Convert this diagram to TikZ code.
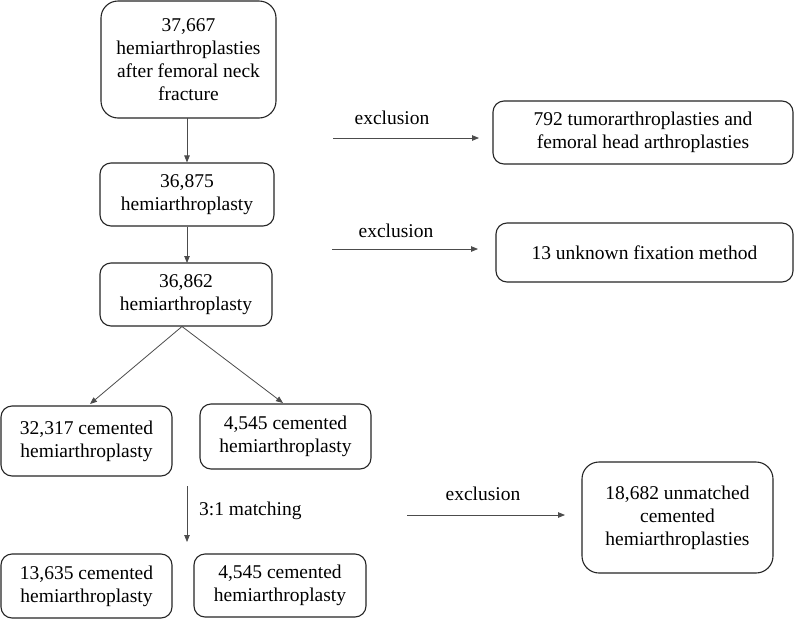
\documentclass[tikz,border=0pt]{standalone}
\usepackage{fontspec}
\setmainfont{Liberation Serif}
\usetikzlibrary{arrows.meta}
\begin{document}
\begin{tikzpicture}[x=1pt,y=-1pt,
  box/.style={draw=black!85, line width=1.1pt, rounded corners=11pt, inner sep=0pt,
    align=center, font=\fontsize{19.5}{23}\selectfont},
  bigbox/.style={box, rounded corners=17pt},
  conn/.style={draw=black!70, line width=0.8pt, -{Triangle[length=7pt,width=5.5pt]}},
  lbl/.style={inner sep=0pt, font=\fontsize{19.5}{23}\selectfont}]
\useasboundingbox (0,0) rectangle (796,619);
\fill[white] (0,0) rectangle (796,619);
% main column
\node[bigbox, minimum width=175pt, minimum height=117pt] (A) at (188.5,59.5)
  {37,667\\hemiarthroplasties\\after femoral neck\\fracture};
\node[box, minimum width=174pt, minimum height=63pt] (B) at (187,194.5)
  {36,875\\hemiarthroplasty};
\node[box, minimum width=172pt, minimum height=63pt] (C) at (186,294.5)
  {36,862\\hemiarthroplasty};
\node[box, minimum width=171pt, minimum height=70pt] (F) at (86.5,441)
  {32,317 cemented\\hemiarthroplasty};
\node[box, minimum width=171pt, minimum height=65pt] (G) at (285.5,436.5)
  {4,545 cemented\\hemiarthroplasty};
\node[box, minimum width=171pt, minimum height=64pt] (H) at (86.5,586)
  {13,635 cemented\\hemiarthroplasty};
\node[box, minimum width=172pt, minimum height=63pt] (I) at (280,585.5)
  {4,545 cemented\\hemiarthroplasty};
% exclusion boxes
\node[box, minimum width=300pt, minimum height=63pt] (D) at (643,132.5)
  {792 tumorarthroplasties and\\femoral head arthroplasties};
\node[box, minimum width=297pt, minimum height=59pt] (E) at (644.5,252.5)
  {13 unknown fixation method};
\node[bigbox, minimum width=191pt, minimum height=111pt] (J) at (677.5,517.5)
  {18,682 unmatched\\cemented\\hemiarthroplasties};
% vertical connectors
\draw[conn] (187,118) -- (B.north);
\draw[conn] (B.south) -- (187,263);
\draw[conn] (182,326.5) -- (90,404);
\draw[conn] (182,326.5) -- (283,403);
% 3:1 matching
\coordinate (m1) at (187,486);
\coordinate (m2) at (187,542);
\draw[conn] (m1) -- (m2);
\node[lbl, anchor=west] (ml) at (199,511) {3:1 matching};
% exclusion arrows
\coordinate (e1a) at (333,138);
\coordinate (e1b) at (479,138);
\draw[conn] (e1a) -- (e1b);
\node[lbl] (el1) at (392,118) {exclusion};
\coordinate (e2a) at (332,249);
\coordinate (e2b) at (478,249);
\draw[conn] (e2a) -- (e2b);
\node[lbl] (el2) at (396,231) {exclusion};
\coordinate (e3a) at (407,515);
\coordinate (e3b) at (565,515);
\draw[conn] (e3a) -- (e3b);
\node[lbl] (el3) at (483,494) {exclusion};
\end{tikzpicture}
\end{document}
